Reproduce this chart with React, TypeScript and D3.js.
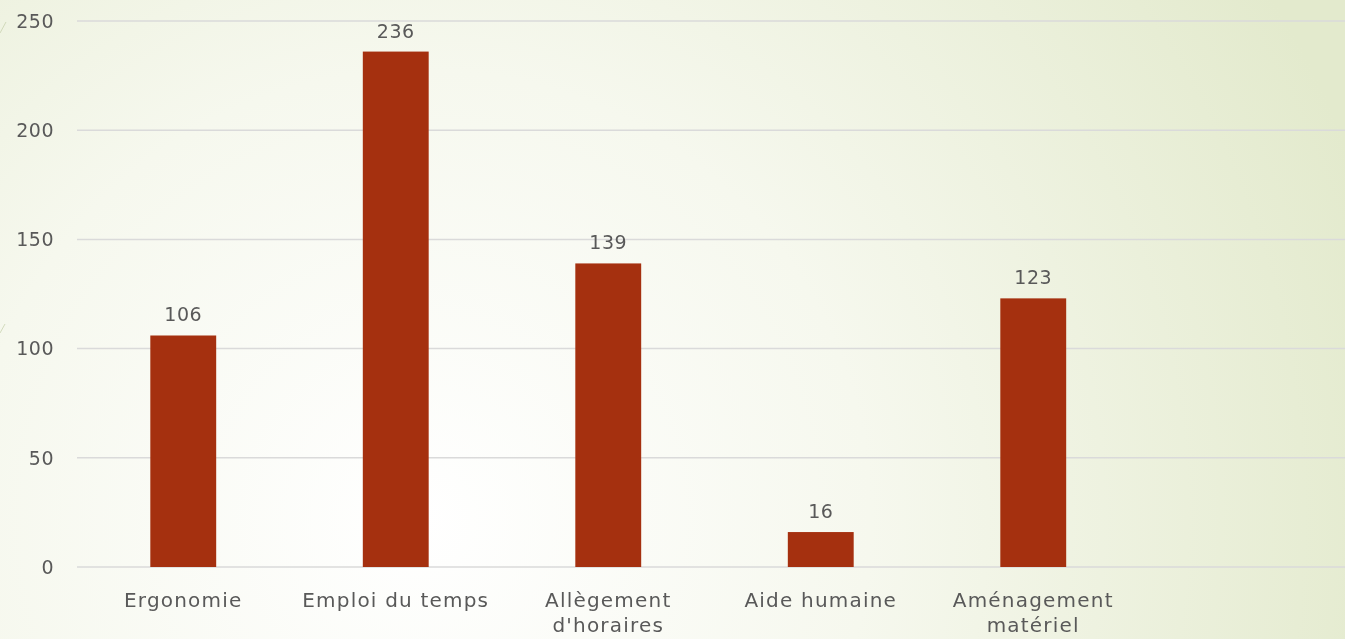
import React from "react";
import * as d3 from "d3";

const CATEGORIES = [
  "Ergonomie",
  "Emploi du temps",
  "Allègement d'horaires",
  "Aide humaine",
  "Aménagement matériel",
  "",
];
const VALUES: (number | null)[] = [106, 236, 139, 16, 123, null];
const Y_TICKS = [0, 50, 100, 150, 200, 250];
// how each label wraps on the axis
const LABEL_LINES: string[][] = [
  ["Ergonomie"],
  ["Emploi du temps"],
  ["Allègement", "d'horaires"],
  ["Aide humaine"],
  ["Aménagement", "matériel"],
  [],
];

const W = 1345;
const H = 639;
const FONT = "'DejaVu Sans', sans-serif";
const TEXT = "#595959";
const BAR = "#A5300F";

const App = () => {
  const x = d3
    .scaleBand<string>()
    .domain(CATEGORIES.map((c, i) => c + i))
    .range([77, 1352])
    .paddingInner(0.69)
    .paddingOuter(0.345);
  const y = d3.scaleLinear().domain([0, 250]).range([567, 21]);

  return (
    <div style={{ position: "fixed", left: 0, top: 0 }}>
      <svg width={W} height={H} style={{ display: "block" }}>
        <defs>
          <radialGradient id="bg" cx="420" cy="520" r="1000" gradientUnits="userSpaceOnUse">
            <stop offset="0" stopColor="#ffffff" />
            <stop offset="0.45" stopColor="#f6f8ee" />
            <stop offset="1" stopColor="#e3eacd" />
          </radialGradient>
        </defs>
        <rect width={W} height={H} fill="url(#bg)" />
        <line x1={0} y1={33} x2={6} y2={22} stroke="#c9d3b0" strokeWidth={0.8} />
        <line x1={0} y1={333} x2={5} y2={324} stroke="#c9d3b0" strokeWidth={0.8} />

        {Y_TICKS.map((t) => (
          <g key={t}>
            <line x1={77} x2={W} y1={y(t)} y2={y(t)} stroke="#dadada" strokeWidth={1.5} />
            <text
              x={54}
              y={y(t)}
              dy="0.36em"
              textAnchor="end"
              fontFamily={FONT}
              fontSize={19}
              letterSpacing={0.5}
              fill={TEXT}
            >
              {t}
            </text>
          </g>
        ))}

        {CATEGORIES.map((c, i) => {
          const v = VALUES[i];
          const bx = x(c + i) as number;
          const bw = x.bandwidth();
          const cx = bx + bw / 2;
          return (
            <g key={i}>
              {v != null && (
                <>
                  <rect x={bx} y={y(v)} width={bw} height={y(0) - y(v)} fill={BAR} />
                  <text
                    x={cx}
                    y={y(v) - 14}
                    textAnchor="middle"
                    fontFamily={FONT}
                    fontSize={19}
                    letterSpacing={0.5}
                    fill={TEXT}
                  >
                    {v}
                  </text>
                </>
              )}
              {LABEL_LINES[i].map((line, j) => (
                <text
                  key={j}
                  x={cx}
                  y={607 + j * 25}
                  textAnchor="middle"
                  fontFamily={FONT}
                  fontSize={20}
                  letterSpacing={1.2}
                  fill={TEXT}
                >
                  {line}
                </text>
              ))}
            </g>
          );
        })}
      </svg>
    </div>
  );
};

export default App;
